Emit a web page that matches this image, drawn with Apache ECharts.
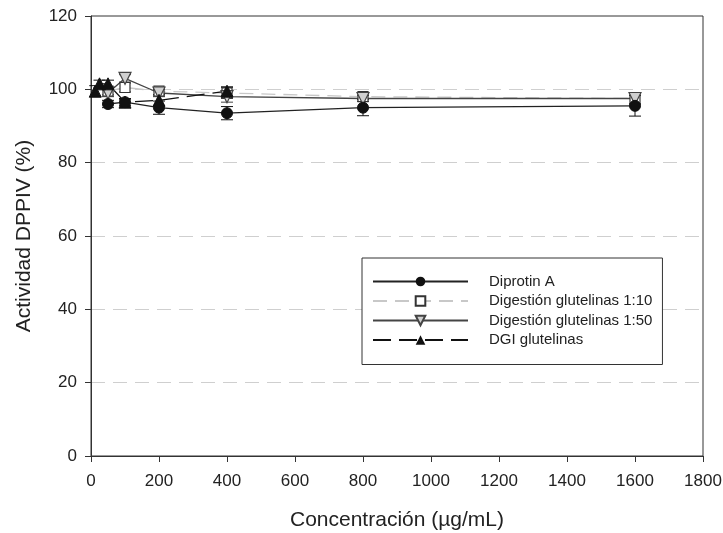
<!DOCTYPE html>
<html>
<head>
<meta charset="utf-8">
<script src="https://cdn.jsdelivr.net/npm/echarts@6/dist/echarts.min.js"></script>
<style>
  html, body { margin: 0; padding: 0; background: #fff; }
  #chart { width: 723px; height: 533px; }
</style>
</head>
<body>
<div id="chart"></div>
<script>
// values (x = concentration, y = % activity, e = error)
var diprotinX = [50, 100, 200, 400, 800, 1600];
var diprotinY = [96, 96.5, 95, 93.5, 95, 95.5];
var diprotinE = [1, 1, 1.8, 1.8, 2.2, 2.8];

var dig10X = [50, 100, 200, 400, 800, 1600];
var dig10Y = [99.5, 100.5, 99.5, 99, 98, 97.5];
var dig10E = [1, 1.2, 1, 1.5, 0.8, 1.5];

var dig50X = [50, 100, 200, 400, 800, 1600];
var dig50Y = [99, 103, 99, 98, 97.5, 97.5];
var dig50E = [1, 1, 1, 1.5, 0.8, 1.5];

var dgiX = [12.5, 25, 50, 100, 200, 400];
var dgiY = [99.5, 101.5, 101.5, 96.5, 97, 99.5];
var dgiE = [1.5, 1, 1, 0.8, 1.5, 1.2];

var seriesNames = ['Diprotin A', 'Digestión glutelinas 1:10', 'Digestión glutelinas 1:50', 'DGI glutelinas'];

function pairs(xs, ys) {
  return xs.map(function (x, i) { return [x, ys[i]]; });
}
function errData(xs, ys, es) {
  return xs.map(function (x, i) { return [x, ys[i] - es[i], ys[i] + es[i]]; });
}
function errSeries(xs, ys, es, color) {
  return {
    type: 'custom',
    silent: true,
    z: 1,
    data: errData(xs, ys, es),
    renderItem: function (params, api) {
      var lo = api.coord([api.value(0), api.value(1)]);
      var hi = api.coord([api.value(0), api.value(2)]);
      var w = 6;
      var st = { stroke: color, lineWidth: 1 };
      return {
        type: 'group',
        children: [
          { type: 'line', shape: { x1: lo[0], y1: lo[1], x2: hi[0], y2: hi[1] }, style: st },
          { type: 'line', shape: { x1: lo[0] - w, y1: lo[1], x2: lo[0] + w, y2: lo[1] }, style: st },
          { type: 'line', shape: { x1: hi[0] - w, y1: hi[1], x2: hi[0] + w, y2: hi[1] }, style: st }
        ]
      };
    }
  };
}

var chart = echarts.init(document.getElementById('chart'));
var font = 'Liberation Sans, Arial, sans-serif';
var axisText = { color: '#222', fontSize: 17, fontFamily: font };

var option = {
  backgroundColor: '#fff',
  animation: false,
  grid: {
    left: 91, top: 16, width: 612, height: 440,
    outerBoundsMode: 'none', containLabel: false,
    show: true, borderColor: '#333', borderWidth: 1
  },
  xAxis: {
    type: 'value', min: 0, max: 1800, interval: 200,
    name: 'Concentración (µg/mL)', nameLocation: 'middle', nameGap: 54,
    nameTextStyle: { color: '#222', fontSize: 21, fontFamily: font },
    axisLine: { lineStyle: { color: '#333' } },
    axisTick: { show: true, inside: false, length: 6, lineStyle: { color: '#333' } },
    axisLabel: Object.assign({ margin: 17, formatter: function (v) { return String(v); } }, axisText),
    splitLine: { show: false }
  },
  yAxis: {
    type: 'value', min: 0, max: 120, interval: 20,
    name: 'Actividad DPPIV (%)', nameLocation: 'middle', nameGap: 56,
    nameTextStyle: { color: '#222', fontSize: 21, fontFamily: font },
    axisLine: { show: true, lineStyle: { color: '#333' } },
    axisTick: { show: true, inside: false, length: 6, lineStyle: { color: '#333' } },
    axisLabel: Object.assign({ margin: 14 }, axisText),
    splitLine: {
      show: true,
      showMaxLine: false,
      showMinLine: false,
      lineStyle: { color: '#cfcfcf', type: [14, 8], width: 1.2 }
    }
  },
  legend: {
    left: 362, top: 258, width: 300,
    orient: 'vertical',
    padding: [16, 10, 17, 10],
    itemGap: 4.5,
    itemWidth: 95, itemHeight: 12,
    borderColor: '#333', borderWidth: 1,
    backgroundColor: '#fff',
    textStyle: { color: '#222', fontSize: 15, fontFamily: font, padding: [0, 0, 0, 16] },
    data: seriesNames
  },
  series: [
    errSeries(diprotinX, diprotinY, diprotinE, '#111'),
    errSeries(dig10X, dig10Y, dig10E, '#444'),
    errSeries(dig50X, dig50Y, dig50E, '#444'),
    errSeries(dgiX, dgiY, dgiE, '#111'),
    {
      name: seriesNames[0], type: 'line', z: 3,
      data: pairs(diprotinX, diprotinY),
      symbol: 'circle', symbolSize: 11,
      lineStyle: { color: '#222', width: 1.3 },
      itemStyle: { color: '#111', borderColor: '#111' }
    },
    {
      name: seriesNames[1], type: 'line', z: 2,
      data: pairs(dig10X, dig10Y),
      symbol: 'rect', symbolSize: 10,
      lineStyle: { color: '#c8c8c8', width: 1.3, type: [14, 8] },
      itemStyle: { color: '#fff', borderColor: '#333', borderWidth: 1.2 }
    },
    {
      name: seriesNames[2], type: 'line', z: 2,
      data: pairs(dig50X, dig50Y),
      symbol: 'triangle', symbolRotate: 180, symbolSize: 12,
      lineStyle: { color: '#444', width: 1.3 },
      itemStyle: { color: '#d0d0d0', borderColor: '#444', borderWidth: 1.2 }
    },
    {
      name: seriesNames[3], type: 'line', z: 2,
      data: pairs(dgiX, dgiY),
      symbol: 'triangle', symbolSize: 12,
      lineStyle: { color: '#111', width: 1.3, type: [18, 8] },
      itemStyle: { color: '#111', borderColor: '#111' }
    }
  ]
};

chart.setOption(option);
</script>
</body>
</html>
